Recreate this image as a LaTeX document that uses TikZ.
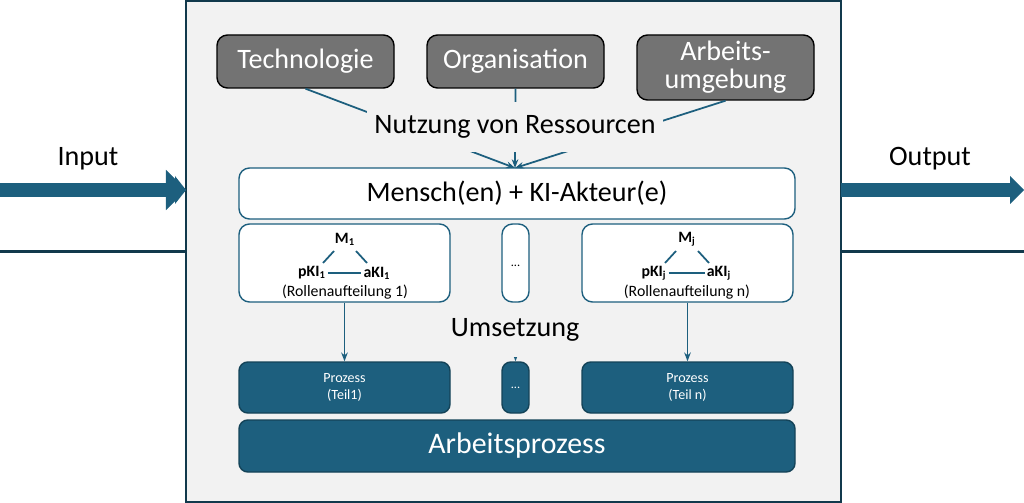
\documentclass[tikz,border=0pt]{standalone}
\usepackage{fontspec}
\setmainfont{Carlito}
\usetikzlibrary{arrows.meta,shapes.arrows}
\definecolor{teal}{HTML}{1D5F7E}
\definecolor{bg}{HTML}{F2F2F2}
\definecolor{gbox}{HTML}{737373}
\begin{document}
\begin{tikzpicture}[x=0.02cm,y=-0.02cm,
 res/.style={draw=black,line width=0.8pt,fill=gbox,rounded corners=6pt,text=white,font=\fontsize{16}{18}\selectfont,align=center},
 wbox/.style={draw=teal,line width=0.8pt,fill=white,rounded corners=6pt},
 pbox/.style={draw=teal!70!black,line width=0.8pt,fill=teal,rounded corners=5pt,text=white,align=center},
 con/.style={draw=teal,line width=1pt},
 arr/.style={con,-{Stealth[length=5pt]}},
 lbl/.style={fill=bg,inner sep=2pt}]
\useasboundingbox (0,0) rectangle (1024,503);
\node[draw=teal!60!black,line width=1pt,fill=bg,minimum width=655\pgflinewidth,inner sep=0] (main) at (513.5,251.5) {};
\path[draw=teal!60!black,line width=1pt,fill=bg] (186,1) rectangle (841,502);
\coordinate (mL) at (186,190); \coordinate (mR) at (841,190);
\node[single arrow,fill=teal,draw=teal,minimum height=186\pgflinewidth,single arrow head extend=4pt,minimum width=22pt,inner sep=0,anchor=tip] (ain) at (186,190) {};
\draw[teal,line width=8pt] (0,190) -- (176,190);
\fill[teal] (175,176) -- (186,190) -- (175,204) -- cycle;
\draw[teal,line width=8pt] (841,190) -- (1012,190);
\fill[teal] (1010,176) -- (1024,190) -- (1010,204) -- cycle;
\node[font=\fontsize{16}{18}\selectfont] (in) at (88,159) {Input};
\node[font=\fontsize{16}{18}\selectfont] (out) at (930,159) {Output};
\node[res,minimum width=177*0.02cm,minimum height=53*0.02cm] (tech) at (305.5,61.5) {Technologie};
\node[res,minimum width=177*0.02cm,minimum height=53*0.02cm] (org) at (515.5,61.5) {Organisation};
\node[res,minimum width=177*0.02cm,minimum height=65*0.02cm,inner sep=1pt] (arb) at (725.5,67.5) {Arbeits-\\[-2pt]umgebung};
\node[wbox,minimum width=556*0.02cm,minimum height=51*0.02cm,font=\fontsize{16}{18}\selectfont] (mensch) at (517,193.5) {Mensch(en) + KI-Akteur(e)};
\coordinate (tgt) at (515,168);
\draw[arr] (tech.south) -- (tgt);
\draw[arr] (org.south) -- (tgt);
\draw[arr] (arb.south) -- (tgt);
\node[lbl,font=\fontsize{16}{18}\selectfont,inner xsep=4pt,inner ysep=8pt] (nutz) at (515,127) {Nutzung von Ressourcen};
% role boxes
\node[wbox,minimum width=211*0.02cm,minimum height=78*0.02cm] (r1) at (344.5,263) {};
\node[wbox,minimum width=27*0.02cm,minimum height=78*0.02cm] (rd) at (515.5,263) {};
\node[font=\scriptsize] at (515.5,266) {...};
\node[wbox,minimum width=211*0.02cm,minimum height=78*0.02cm] (rn) at (687.5,263) {};
\foreach \b/\cx/\s/\t in {r1/345/1/1,rn/687/j/n}{
 \node[font=\bfseries\small,inner sep=1pt] (m\b) at (\cx,239) {M$_{\mathbf{\s}}$};
 \node[font=\bfseries\small,inner sep=1pt] (p\b) at (\cx-33,273) {pKI$_{\mathbf{\s}}$};
 \node[font=\bfseries\small,inner sep=1pt] (a\b) at (\cx+32,273) {aKI$_{\mathbf{\s}}$};
 \draw[con] (\cx-11,251) -- (\cx-22,263);
 \draw[con] (\cx+11,251) -- (\cx+22,263);
 \draw[con] (p\b.east) -- (a\b.west);
 \node[font=\small] at (\cx,292) {(Rollenaufteilung \t)};
}
% process boxes
\node[pbox,minimum width=211*0.02cm,minimum height=51*0.02cm,font=\footnotesize] (p1) at (344.5,387.5) {Prozess\\(Teil1)};
\node[pbox,minimum width=27*0.02cm,minimum height=51*0.02cm,inner sep=0,font=\scriptsize] (pd) at (515.5,387.5) {...};
\node[pbox,minimum width=211*0.02cm,minimum height=51*0.02cm,font=\footnotesize] (pn) at (687.5,387.5) {Prozess\\(Teil n)};
\node[pbox,minimum width=556*0.02cm,minimum height=52*0.02cm,font=\fontsize{17}{20}\selectfont] (ap) at (517,446) {Arbeitsprozess};
\draw[arr] (r1.south) -- (p1.north);
\draw[arr] (rn.south) -- (pn.north);
\draw[arr] (rd.south) -- (pd.north);
\node[lbl,font=\fontsize{16}{18}\selectfont,inner xsep=4pt,inner ysep=9pt] (ums) at (515,330) {Umsetzung};
\end{tikzpicture}
\end{document}
